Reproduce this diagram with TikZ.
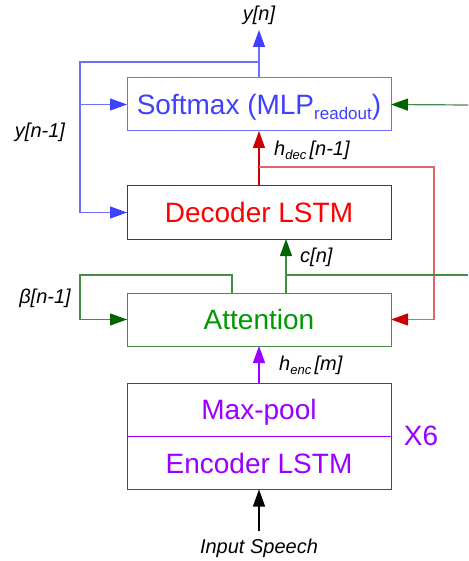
\documentclass[tikz,border=0pt]{standalone}
\usepackage{fontspec}
\setmainfont{Liberation Sans}
\usetikzlibrary{arrows.meta}

\definecolor{blueline}{RGB}{110,110,255}
\definecolor{bluetext}{RGB}{64,64,255}
\definecolor{redline}{RGB}{204,0,0}
\definecolor{redlight}{RGB}{224,102,102}
\definecolor{redtext}{RGB}{255,0,0}
\definecolor{greenline}{RGB}{70,140,70}
\definecolor{greentip}{RGB}{0,100,0}
\definecolor{greentext}{RGB}{0,153,0}
\definecolor{purpleline}{RGB}{153,0,255}

\newcommand{\boxfont}{\fontsize{28}{32}\selectfont}
\newcommand{\labfont}{\fontsize{20}{24}\selectfont\itshape}
\newcommand{\subtext}[1]{\raisebox{-4pt}{\fontsize{13}{13}\selectfont #1}}

\begin{document}
\begin{tikzpicture}[x=1pt, y=-1pt,
  blockbox/.style={draw, line width=1pt, minimum width=264pt, minimum height=53pt, inner sep=0pt, outer sep=0pt, text height=23pt, text depth=3pt, font=\boxfont},
  tagtext/.style={font=\labfont, text=black, inner sep=0pt},
  conn/.style={line width=1.2pt},
  tip/.style={-{Triangle[length=17pt, width=12pt, color=#1]}}]
\useasboundingbox (0,0) rectangle (468,561);

\node[blockbox, draw=blueline, text=bluetext] (soft) at (259,104.5) {Softmax (MLP\raisebox{-5pt}{\fontsize{17}{17}\selectfont readout})};
\node[blockbox, draw=redline, text=redtext] (dec) at (259,212.5) {Decoder LSTM};
\node[blockbox, draw=greenline, text=greentext] (att) at (259,319.5) {Attention};
\node[blockbox, draw=purpleline, text=purpleline] (maxp) at (259,409.5) {Max-pool};
\node[blockbox, draw=purpleline, text=purpleline] (enc) at (259,463) {Encoder LSTM};
\node[font=\boxfont, text=purpleline, inner sep=0pt] (rep) at (421,436) {X6};

\node[tagtext] (yn) at (259,15) {y[n]};
\node[tagtext] (yprev) at (40,132) {y[n-1]};
\node[tagtext, anchor=west] (hdec) at (274,150) {h\subtext{dec}\,[n-1]};
\node[tagtext, anchor=west] (cn) at (300,257) {c[n]};
\node[tagtext] (beta) at (45,298) {β[n-1]};
\node[tagtext, anchor=west] (henc) at (279,365) {h\subtext{enc}\,[m]};
\node[tagtext] (speech) at (259,548) {Input Speech};

\coordinate (ysplit) at (259,62);
\coordinate (yleft) at (80,62);
\coordinate (gin) at (468,105);
\coordinate (hsplit) at (259,167);
\coordinate (hright) at (434,167);
\coordinate (cstart) at (286,293);
\coordinate (cright) at (468,275);
\coordinate (bstart) at (232,293);
\coordinate (bleft) at (80,275);
\coordinate (inp) at (259,531);

\draw[conn, blueline, tip=bluetext] (soft.north) -- ++(0,-48);
\draw[conn, blueline] (ysplit) -- (yleft) |- (dec.west);
\draw[conn, blueline, tip=bluetext] (yleft |- dec.west) -- (dec.west);
\draw[conn, blueline, tip=bluetext] (yleft |- soft.west) -- (soft.west);
\draw[conn, greenline, tip=greentip] (gin) -- (soft.east);

\draw[conn, redline] (dec.north) -- (hsplit);
\draw[conn, redline, tip=redline] (hsplit) -- (soft.south);
\draw[conn, redlight] (hsplit) -- (hright) |- (att.east);
\draw[conn, redlight, tip=redline] (hright |- att.east) -- (att.east);

\draw[conn, greenline, tip=greentip] (cstart) -- (cstart |- dec.south);
\draw[conn, greenline] (cstart |- cright) -- (cright);
\draw[conn, greenline] (bstart) |- (bleft) |- (att.west);
\draw[conn, greenline, tip=greentip] (bleft |- att.west) -- (att.west);

\draw[conn, purpleline, tip=purpleline] (maxp.north) -- (att.south);
\draw[conn, black, tip=black] (inp) -- (enc.south);
\end{tikzpicture}
\end{document}
